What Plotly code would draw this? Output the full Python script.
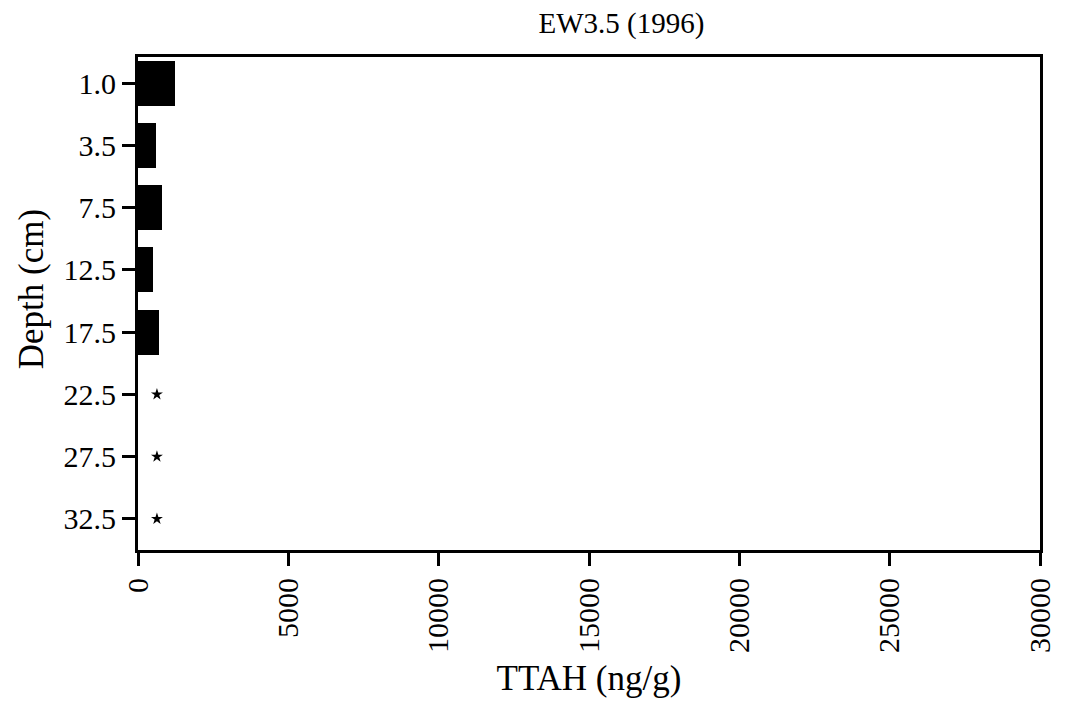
import plotly.graph_objects as go

depths = ["1.0", "3.5", "7.5", "12.5", "17.5", "22.5", "27.5", "32.5"]
ttah = [1220, 600, 790, 500, 700, None, None, None]
nd_depths = ["22.5", "27.5", "32.5"]
nd_marker_x = [630, 630, 630]
x_ticks = [0, 5000, 10000, 15000, 20000, 25000, 30000]

FONT = "Liberation Serif"

fig = go.Figure()
fig.add_trace(go.Bar(
    x=ttah, y=depths, orientation="h", width=0.72,
    marker=dict(color="black", line=dict(width=0)),
    showlegend=False,
))
fig.add_trace(go.Scatter(
    x=nd_marker_x, y=nd_depths, mode="markers",
    marker=dict(symbol="star", size=9, color="black"),
    showlegend=False,
))

fig.update_layout(
    width=1068, height=704,
    margin=dict(l=138, r=22, t=57, b=153),
    paper_bgcolor="white", plot_bgcolor="white",
    font=dict(family=FONT, color="black", size=30),
    title=dict(text="EW3.5 (1996)", x=0.536, xanchor="center", xref="paper",
               y=0.968, yanchor="middle", yref="container",
               font=dict(size=29, family=FONT, color="black")),
    bargap=0,
    annotations=[dict(
        text="Depth (cm)", textangle=-90, showarrow=False,
        xref="paper", yref="paper", x=(31 - 138) / 908, y=(551 - 290) / 494,
        xanchor="center", yanchor="middle",
        font=dict(size=35, family=FONT, color="black"),
    )],
)
fig.update_xaxes(
    range=[0, 30000], tickvals=x_ticks, ticktext=[str(v) for v in x_ticks],
    tickangle=-90, showgrid=False, zeroline=False,
    showline=True, linewidth=3, linecolor="black", mirror=True,
    ticks="outside", ticklen=13, tickwidth=3, tickcolor="black",
    tickfont=dict(size=30, family=FONT, color="black"),
    title=dict(text="TTAH (ng/g)", font=dict(size=35, family=FONT, color="black"), standoff=14),
)
fig.update_yaxes(
    type="category", categoryorder="array", categoryarray=depths,
    range=[7.5, -0.42], showgrid=False, zeroline=False,
    showline=True, linewidth=3, linecolor="black", mirror=True,
    ticks="outside", ticklen=13, tickwidth=3, tickcolor="black",
    tickfont=dict(size=30, family=FONT, color="black"),
)

fig.write_html("out.html")
